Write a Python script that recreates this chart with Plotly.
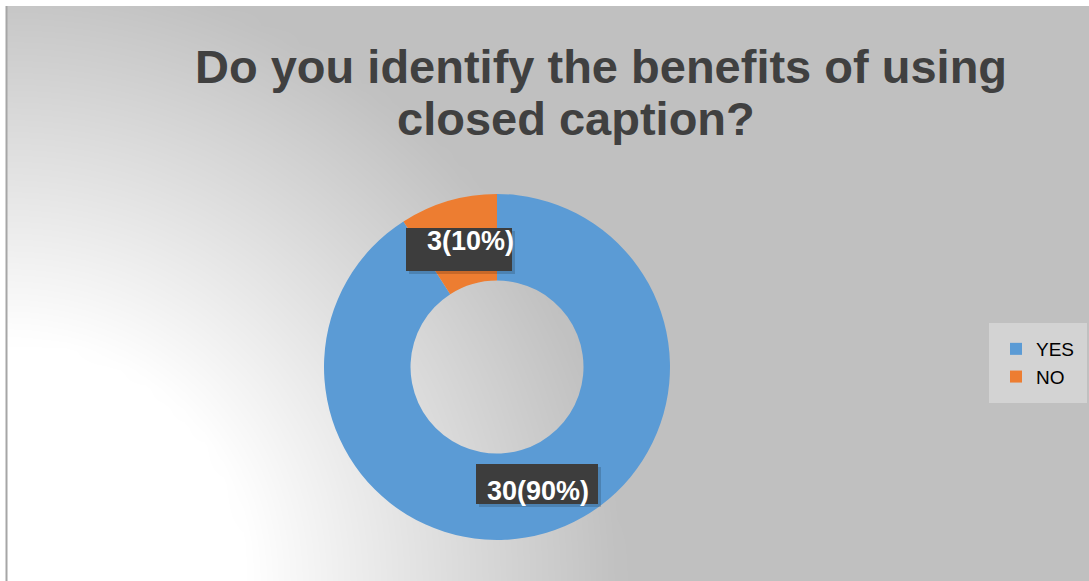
import numpy as np
import plotly.graph_objects as go

# ---- data ----
labels = ["YES", "NO"]
counts = [30, 3]
pcts = [90, 10]
colors = ["#5b9bd5", "#ed7d31"]
title_lines = ["Do you identify the benefits of using", "closed caption?"]

W, H = 1089, 581


def px(x):
    return x / W


def py(y):
    return 1 - y / H


# ---- background gradient (decoration only) ----
gx = np.linspace(0, W, 56)
gy = np.linspace(0, H, 31)
XX, YY = np.meshgrid(gx, gy)
dist = np.sqrt(XX ** 2 + YY ** 2)  # distance from bottom-left corner
frac = np.clip((dist - 240) / 380, 0, 1)
bgz = 255 - frac * 63

fig = go.Figure()
fig.add_trace(go.Heatmap(
    x=gx, y=gy, z=bgz, zmin=192, zmax=255, zsmooth="best",
    colorscale=[[0, "#c0c0c0"], [1, "#ffffff"]], showscale=False,
    hoverinfo="skip", showlegend=False,
))

fig.add_trace(go.Pie(
    labels=labels, values=counts, hole=0.5, sort=False, direction="clockwise",
    rotation=0, marker=dict(colors=colors), textinfo="none",
    domain=dict(x=[px(497 - 173), px(497 + 173)], y=[py(367 + 173), py(367 - 173)]),
    showlegend=True,
))

annos = []
# title lines
for txt, (cx, cy) in zip(title_lines, [(600.5, 66.5), (576, 118.5)]):
    annos.append(dict(
        x=px(cx), y=py(cy), xref="paper", yref="paper", showarrow=False,
        xanchor="center", yanchor="middle", text=f"<b>{txt}</b>",
        font=dict(family="Liberation Sans", size=47, color="#404040"),
    ))

# data label boxes (YES, NO)
boxes = [(476, 464, 598, 504), (406, 228, 512, 271)]
text_pos = [(538, 491), (470.5, 240.5)]
shapes = []
for (x0, y0, x1, y1), (tx, ty), c, p in zip(boxes, text_pos, counts, pcts):
    shapes.append(dict(type="rect", xref="paper", yref="paper",
                       x0=px(x0 + 3), x1=px(x1 + 3), y0=py(y1 + 3), y1=py(y0 + 3),
                       fillcolor="rgba(0,0,0,0.16)", line=dict(width=0), layer="above"))
    shapes.append(dict(type="rect", xref="paper", yref="paper",
                       x0=px(x0), x1=px(x1), y0=py(y1), y1=py(y0),
                       fillcolor="#3d3d3d", line=dict(width=0), layer="above"))
    annos.append(dict(
        x=px(tx), y=py(ty), xref="paper", yref="paper", showarrow=False,
        xanchor="center", yanchor="middle", text=f"<b>{c}({p}%)</b>",
        font=dict(family="Liberation Sans", size=27, color="white"),
    ))

shapes.append(dict(type="line", xref="paper", yref="paper", x0=px(6.5), x1=px(6.5),
                   y0=0, y1=py(6), line=dict(color="#a6a6a6", width=2)))

fig.update_layout(
    width=W, height=H,
    margin=dict(l=0, r=0, t=0, b=0),
    paper_bgcolor="white",
    plot_bgcolor="#c0c0c0",
    xaxis=dict(domain=[px(7), 1], range=[0, W], visible=False, fixedrange=True),
    yaxis=dict(domain=[0, py(6)], range=[0, H], visible=False, fixedrange=True),
    legend=dict(
        x=px(989), y=py(323), xanchor="left", yanchor="top",
        bgcolor="#d3d3d3", bordercolor="#d3d3d3", borderwidth=7,
        font=dict(family="Liberation Sans", size=19, color="black"),
        itemwidth=30,
    ),
    annotations=annos,
    shapes=shapes,
)

fig.write_html(
    "out.html",
    config={"displayModeBar": False},
    post_script="document.body.style.margin='0';document.body.style.overflow='hidden';",
)
